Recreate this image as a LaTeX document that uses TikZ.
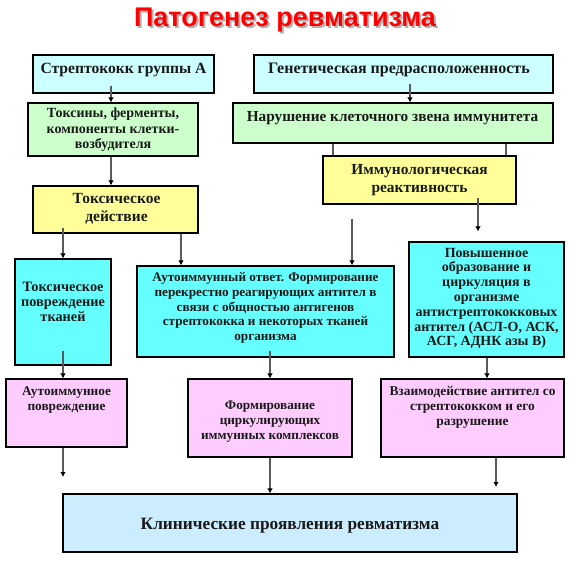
\documentclass[tikz,border=0pt]{standalone}
\usepackage{fontspec}
\setmainfont{Liberation Serif}
\newfontfamily\titlefont{Liberation Sans}
\usetikzlibrary{arrows.meta,shadows,calc}
\definecolor{cyanL}{HTML}{CCFFFF}
\definecolor{greenL}{HTML}{CCFFCC}
\definecolor{yellowL}{HTML}{FFFF99}
\definecolor{cyanB}{HTML}{66FFFF}
\definecolor{pinkL}{HTML}{FFCCFF}
\definecolor{blueL}{HTML}{CCECFF}
\definecolor{lineG}{HTML}{5A5A5A}
\definecolor{titleRed}{HTML}{FF0000}
\tikzset{
  box/.style={draw=black, line width=1.1pt, inner sep=0pt,
    drop shadow={shadow xshift=1.3pt, shadow yshift=-1.3pt, fill=black!40, opacity=1}},
  txt/.style={align=center, inner sep=0pt, text=black!90},
  conn/.style={draw=lineG, line width=1.4pt, -{Latex[length=5pt,width=5.5pt,color=black]}},
  plainline/.style={draw=lineG, line width=1.4pt},
}
\newcommand\mkbox[6]{\node[box, fill=#6, minimum width={#4-#2}, minimum height={#5-#3}] (#1) at ({(#2+#4)/2},{(#3+#5)/2}) {};}
\newcommand\fs[2]{\fontsize{#1}{#2}\selectfont\bfseries}
\newcommand\shadowtitle[1]{\makebox[0pt][l]{\hspace{2pt}\raisebox{-2pt}{\textcolor{black!30}{#1}}}\textcolor{titleRed}{#1}}
\begin{document}
\begin{tikzpicture}[x=1pt,y=-1pt]
\useasboundingbox[fill=white] (0,0) rectangle (572,561);
% title
\node[txt, font=\titlefont\fontsize{27}{30}\selectfont\bfseries] (title) at (285,21) {\shadowtitle{Патогенез ревматизма}};
% boxes
\mkbox{strep}{33}{55}{214}{93}{cyanL}
\mkbox{gen}{254}{55}{553}{93}{cyanL}
\mkbox{tox}{28}{103}{198}{156}{greenL}
\mkbox{nar}{233}{103}{553}{143}{greenL}
\mkbox{toxd}{33}{186}{198}{233}{yellowL}
\mkbox{immun}{323}{156}{516}{204}{yellowL}
\mkbox{toxdam}{15}{259}{111}{365}{cyanB}
\mkbox{autoresp}{137}{266}{394}{357}{cyanB}
\mkbox{povysh}{409}{242}{564}{357}{cyanB}
\mkbox{autodam}{6}{379}{127}{447}{pinkL}
\mkbox{form}{188}{379}{352}{457}{pinkL}
\mkbox{vzaim}{381}{379}{564}{457}{pinkL}
\mkbox{clin}{63}{494}{517}{552}{blueL}
% free ends
\coordinate (endA) at (63,477);
\coordinate (endB) at (496,487);
% connectors
\draw[conn] ($(strep.south -| 111,0)+(0,-8)$) -- (tox.north -| 111,0);
\draw[conn] ($(gen.south -| 410,0)+(0,-10)$) -- (nar.north -| 410,0);
\draw[conn] (tox.south -| 111,0) -- (toxd.north -| 111,0);
\draw[plainline] (nar.south -| 333,0) -- (immun.north -| 333,0);
\draw[plainline] (nar.south -| 506,0) -- (immun.north -| 506,0);
\draw[conn] ($(toxd.south -| 63,0)+(0,-6)$) -- (toxdam.north -| 63,0);
\draw[conn] (toxd.south -| 181,0) -- (autoresp.north -| 181,0);
\draw[conn] ($(immun.south -| 352,0)+(0,14)$) -- (autoresp.north -| 352,0);
\draw[conn] ($(immun.south -| 478,0)+(0,-7)$) -- ($(povysh.north -| 478,0)+(0,-10)$);
\draw[conn] ($(toxdam.south -| 63,0)+(0,-15)$) -- (autodam.north -| 63,0);
\draw[conn] ($(autoresp.south -| 270,0)+(0,-7)$) -- (form.north -| 270,0);
\draw[conn] (povysh.south -| 487,0) -- (vzaim.north -| 487,0);
\draw[conn] (autodam.south -| endA) -- (endA);
\draw[conn] (form.south -| 270,0) -- (clin.north -| 270,0);
\draw[conn] (vzaim.south -| endB) -- (endB);
% texts
\node[txt, font=\fs{15.6}{18}] (tstrep) at (123.5,70) {Стрептококк группы А};
\node[txt, font=\fs{16}{18}] (tgen) at (399,70) {Генетическая предрасположенность};
\node[txt, font=\fs{14}{15.5}] (ttox) at (113,130) {Токсины, ферменты,\\компоненты клетки-\\возбудителя};
\node[txt, font=\fs{15.3}{18}] (tnar) at (392.5,118) {Нарушение клеточного звена иммунитета};
\node[txt, font=\fs{15.5}{17.5}] (ttoxd) at (116.5,209) {Токсическое\\действие};
\node[txt, font=\fs{15.4}{18}] (timmun) at (419.5,180) {Иммунологическая\\реактивность};
\node[txt, font=\fs{14.3}{14.8}] (ttoxdam) at (63,302) {Токсическое\\повреждение\\тканей};
\node[txt, font=\fs{13.2}{14.7}] (tautoresp) at (265.5,308) {Аутоиммунный ответ. Формирование\\перекрестно реагирующих антител в\\связи с общностью антигенов\\стрептококка и некоторых тканей\\организма};
\node[txt, font=\fs{14}{14.8}] (tpovysh) at (486.5,298.5) {Повышенное\\образование и\\циркуляция в\\организме\\антистрептококковых\\антител (АСЛ-О, АСК,\\АСГ, АДНК азы В)};
\node[txt, font=\fs{13.3}{14.5}] (tautodam) at (66.5,400) {Аутоиммунное\\повреждение};
\node[txt, font=\fs{13.2}{15}] (tform) at (270,422) {Формирование\\циркулирующих\\иммунных комплексов};
\node[txt, font=\fs{13.4}{15}] (tvzaim) at (472.5,407) {Взаимодействие антител со\\стрептококком и его\\разрушение};
\node[txt, font=\fs{17.3}{20}] (tclin) at (290,526) {Клинические проявления ревматизма};
\end{tikzpicture}
\end{document}
